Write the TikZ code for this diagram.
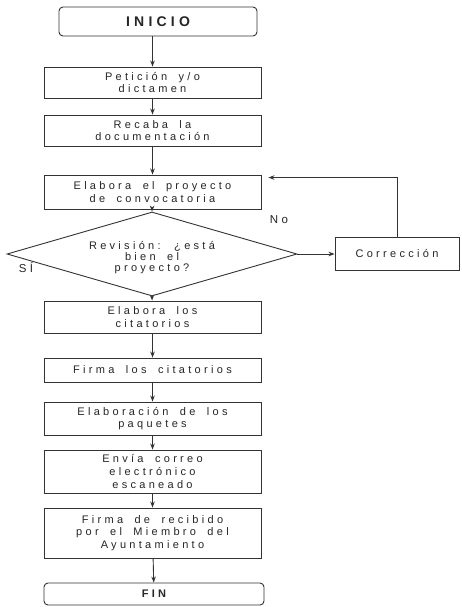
\documentclass[tikz,border=0pt]{standalone}
\usepackage{fontspec}
\setmainfont{Liberation Sans}[LetterSpace=30, WordSpace=1.8]
\usetikzlibrary{shapes.geometric,arrows.meta}

\tikzset{
  line/.style={draw=black!80, line width=0.9pt},
  flow/.style={line, -{Stealth[length=6pt,width=4.5pt]}},
  stepbox/.style={line, rectangle, minimum width=217pt, inner sep=1pt,
    align=center, font=\fontsize{11}{12.8}\selectfont, text=black!85},
  terminal/.style={stepbox, rounded corners=4pt},
  decision/.style={line, diamond, aspect=3.45, minimum width=290pt,
    minimum height=84pt, inner sep=1pt, align=center,
    font=\fontsize{11}{11.2}\selectfont, text=black!85},
  lbl/.style={font=\fontsize{11.5}{13}\selectfont, text=black!85},
}

\begin{document}
\begin{tikzpicture}[x=1pt,y=-1pt]
\useasboundingbox[fill=white] (0,0) rectangle (461,607);

% main column
\node[terminal, minimum width=198pt, minimum height=29pt,
      font=\fontsize{14}{16}\selectfont\bfseries] (inicio) at (158,21.5) {INICIO};
\node[stepbox, minimum height=31pt] (peticion) at (152.5,82.5) {Petición y/o\\dictamen};
\node[stepbox, minimum height=31pt] (recaba) at (152.5,130.5) {Recaba la\\documentación};
\node[stepbox, minimum height=34pt] (elabora) at (152.5,192) {Elabora el proyecto\\de convocatoria};
\node[decision] (revision) at (152,254) {\\[4pt]Revisión: ¿está\\bien el\\proyecto?};
\node[stepbox, minimum height=32pt] (citatorios) at (152.5,317) {Elabora los\\citatorios};
\node[stepbox, minimum height=24pt] (firma) at (152.5,370) {Firma los citatorios};
\node[stepbox, minimum height=33pt] (paquetes) at (152.5,418.5) {Elaboración de los\\paquetes};
\node[stepbox, minimum height=43pt] (envia) at (152.5,471.5) {Envía correo\\electrónico\\escaneado};
\node[stepbox, minimum height=50pt] (recibido) at (152.5,533) {Firma de recibido\\por el Miembro del\\Ayuntamiento};
\node[terminal, minimum width=220pt, minimum height=22pt,
      font=\fontsize{11}{13}\selectfont\bfseries] (fin) at (154,594) {FIN};

% correction branch
\node[stepbox, minimum width=124pt, minimum height=33pt] (correccion) at (397,253.5) {Corrección};

% labels
\node[lbl] (no) at (279,220) {No};
\node[lbl] (si) at (26,268) {SÍ};

% connectors
\draw[flow] (inicio.south -| peticion.north) -- (peticion.north);
\draw[flow] (peticion) -- (recaba);
\draw[flow] (recaba) -- (elabora);
\draw[flow] (elabora) -- (revision.north);
\draw[flow] (revision.south) -- (citatorios);
\draw[flow] (citatorios) -- (firma);
\draw[flow] (firma) -- (paquetes);
\draw[flow] (paquetes) -- (envia);
\draw[flow] (envia) -- (recibido);
\draw[flow] (recibido) -- (fin);
\draw[flow] (revision.east) -- (revision.east -| correccion.west);
\coordinate (back) at ([xshift=7pt, yshift=-3pt]elabora.north east);
\draw[flow] (correccion.north) |- (back);
\end{tikzpicture}
\end{document}
